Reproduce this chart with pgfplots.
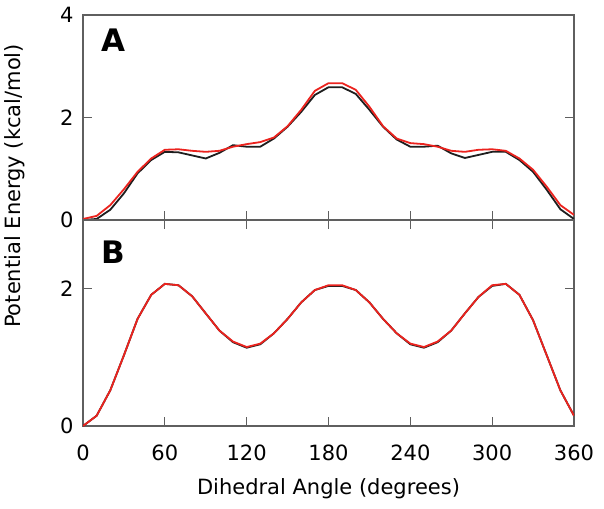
\documentclass[border=0pt]{standalone}
\usepackage{fontspec}
\setmainfont{DejaVu Sans}
\usepackage{pgfplots}
\pgfplotsset{compat=1.18}

\definecolor{framegray}{RGB}{95,95,95}
\definecolor{curveblack}{RGB}{30,30,30}
\definecolor{curvered}{RGB}{235,35,30}

\pgfplotsset{
  panel/.style={
    scale only axis, width=491pt,
    xmin=0, xmax=360, ymin=0,
    xtick={0,60,...,360},
    tick align=inside, major tick length=9pt,
    axis line style={framegray, line width=1.3pt},
    tick style={framegray, line width=1.1pt},
    tick label style={font=\fontsize{21}{25}\selectfont},
    label style={font=\fontsize{21}{25}\selectfont},
    /pgf/number format/assume math mode=true,
    xticklabel style={yshift=-15pt},
    yticklabel style={xshift=-6pt},
  },
  blk/.style={curveblack, line width=1.8pt, no marks},
  rd/.style={curvered, line width=1.8pt, no marks},
}

\begin{document}
\begin{tikzpicture}
% panel A
\begin{axis}[panel, at={(0,206pt)}, anchor=south west, height=205pt,
  ymax=4, ytick={0,2,4}, xticklabels={}, xtick pos=bottom]
\addplot[blk] coordinates {
 (0,0) (10,0.02) (20,0.20) (30,0.52) (40,0.91) (50,1.17) (60,1.33) (70,1.32)
 (80,1.26) (90,1.20) (100,1.31) (110,1.46) (120,1.43) (130,1.43) (140,1.59)
 (150,1.82) (160,2.11) (170,2.44) (180,2.59) (190,2.59) (200,2.46) (210,2.15)
 (220,1.82) (230,1.57) (240,1.43) (250,1.43) (260,1.45) (270,1.30) (280,1.21)
 (290,1.27) (300,1.33) (310,1.33) (320,1.17) (330,0.94) (340,0.59) (350,0.21)
 (360,0.02)};
\addplot[rd] coordinates {
 (0,0.02) (10,0.08) (20,0.29) (30,0.60) (40,0.94) (50,1.20) (60,1.37) (70,1.38)
 (80,1.35) (90,1.33) (100,1.35) (110,1.43) (120,1.48) (130,1.52) (140,1.61)
 (150,1.83) (160,2.15) (170,2.52) (180,2.67) (190,2.67) (200,2.54) (210,2.21)
 (220,1.83) (230,1.59) (240,1.50) (250,1.48) (260,1.43) (270,1.35) (280,1.33)
 (290,1.37) (300,1.38) (310,1.35) (320,1.20) (330,0.98) (340,0.65) (350,0.29)
 (360,0.10)};
\node[font=\bfseries\fontsize{31}{35}\selectfont] at (axis cs:22,3.50) {A};
\end{axis}
% panel B
\begin{axis}[panel, at={(0,0)}, anchor=south west, height=206pt,
  ymax=3, ytick={0,2},
  xlabel={Dihedral Angle (degrees)},
  x label style={at={(axis description cs:0.5,0)}, anchor=center, yshift=-63pt}]
\addplot[blk] coordinates {
 (0,0) (10,0.15) (20,0.52) (30,1.03) (40,1.56) (50,1.91) (60,2.07) (70,2.05)
 (80,1.89) (90,1.64) (100,1.39) (110,1.22) (120,1.14) (130,1.19) (140,1.35)
 (150,1.56) (160,1.80) (170,1.98) (180,2.04) (190,2.04) (200,1.98) (210,1.80)
 (220,1.56) (230,1.35) (240,1.19) (250,1.14) (260,1.22) (270,1.39) (280,1.64)
 (290,1.88) (300,2.04) (310,2.07) (320,1.91) (330,1.54) (340,1.03) (350,0.52)
 (360,0.15)};
\addplot[rd] coordinates {
 (0,0) (10,0.15) (20,0.52) (30,1.03) (40,1.56) (50,1.91) (60,2.07) (70,2.05)
 (80,1.89) (90,1.64) (100,1.39) (110,1.23) (120,1.15) (130,1.20) (140,1.35)
 (150,1.56) (160,1.80) (170,1.98) (180,2.05) (190,2.05) (200,1.98) (210,1.80)
 (220,1.56) (230,1.35) (240,1.20) (250,1.15) (260,1.23) (270,1.39) (280,1.64)
 (290,1.88) (300,2.05) (310,2.07) (320,1.91) (330,1.54) (340,1.03) (350,0.52)
 (360,0.15)};
\node[font=\bfseries\fontsize{31}{35}\selectfont] at (axis cs:22,2.53) {B};
\end{axis}
\node[rotate=90, font=\fontsize{21}{25}\selectfont] at (-68pt,240pt) {Potential Energy (kcal/mol)};
\pgfresetboundingbox
\useasboundingbox (-83pt,-82pt) rectangle (521pt,426pt);
\end{tikzpicture}
\end{document}
